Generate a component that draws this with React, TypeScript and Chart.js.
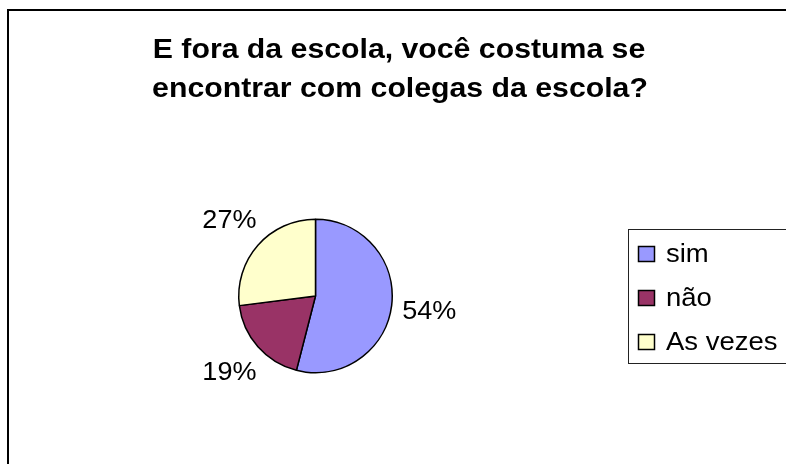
import React, { useEffect, useRef } from "react";
import { Chart, registerables } from "chart.js";

Chart.register(...registerables);

const titleLines = ["E fora da escola, você costuma se", "encontrar com colegas da escola?"];
const categories = ["sim", "não", "As vezes"];
const values = [54, 19, 27];
const colors = ["#9999FF", "#993366", "#FFFFCC"];

function stretchedText(ctx: CanvasRenderingContext2D, text: string, x: number, y: number, sx: number, align: "left" | "center") {
  ctx.save();
  ctx.translate(x, y);
  ctx.scale(sx, 1);
  ctx.textAlign = align;
  ctx.fillText(text, 0, 0);
  ctx.restore();
}

const decorPlugin = {
  id: "decor",
  beforeDraw(chart: any) {
    const ctx: CanvasRenderingContext2D = chart.ctx;
    ctx.save();
    ctx.fillStyle = "#ffffff";
    ctx.fillRect(0, 0, chart.width, chart.height);
    ctx.restore();
  },
  afterDraw(chart: any) {
    const ctx: CanvasRenderingContext2D = chart.ctx;
    ctx.save();
    // outer frame
    ctx.strokeStyle = "#000000";
    ctx.lineWidth = 2;
    ctx.strokeRect(8, 10, 820, 500);

    // title
    ctx.fillStyle = "#000000";
    ctx.font = "bold 27px 'Liberation Sans', Arial, sans-serif";
    ctx.textBaseline = "alphabetic";
    stretchedText(ctx, titleLines[0], 399, 58, 1.12, "center");
    stretchedText(ctx, titleLines[1], 400, 97, 1.12, "center");

    // percentage labels
    const meta = chart.getDatasetMeta(0);
    const total = values.reduce((a, b) => a + b, 0);
    ctx.font = "26px 'Liberation Sans', Arial, sans-serif";
    ctx.textBaseline = "middle";
    meta.data.forEach((arc: any, i: number) => {
      const mid = (arc.startAngle + arc.endAngle) / 2;
      const r = arc.outerRadius + 38;
      const x = arc.x + Math.cos(mid) * r;
      const y = arc.y + Math.sin(mid) * r;
      const pct = Math.round((values[i] / total) * 100) + "%";
      stretchedText(ctx, pct, x, y + 1, 1.04, "center");
    });

    // legend
    ctx.lineWidth = 1;
    ctx.strokeStyle = "#222222";
    ctx.strokeRect(628.5, 229.5, 200, 134);
    ctx.font = "25px 'Liberation Sans', Arial, sans-serif";
    ctx.textBaseline = "middle";
    ctx.lineWidth = 1.5;
    ctx.strokeStyle = "#000000";
    categories.forEach((c, i) => {
      const cy = 254 + i * 44;
      ctx.fillStyle = colors[i];
      ctx.fillRect(638, cy - 7.5, 16, 15);
      ctx.strokeRect(638.5, cy - 7.5, 16, 15);
      ctx.fillStyle = "#000000";
      stretchedText(ctx, c, 666, cy + 1, 1.1, "left");
    });
    ctx.restore();
  },
};

export default function App() {
  const ref = useRef<HTMLCanvasElement | null>(null);
  useEffect(() => {
    if (!ref.current) return;
    const chart = new Chart(ref.current, {
      type: "pie",
      data: {
        labels: categories,
        datasets: [
          {
            data: values,
            backgroundColor: colors,
            borderColor: "#000000",
            borderWidth: 1.5,
          },
        ],
      },
      options: {
        responsive: true,
        maintainAspectRatio: false,
        animation: false,
        layout: { padding: { left: 238, right: 393, top: 218, bottom: 90 } },
        plugins: {
          legend: { display: false },
          title: { display: false },
          tooltip: { enabled: false },
        },
      },
      plugins: [decorPlugin],
    });
    return () => chart.destroy();
  }, []);
  return (
    <div style={{ position: "absolute", left: 0, top: 0, width: 786, height: 464 }}>
      <canvas ref={ref} />
    </div>
  );
}
